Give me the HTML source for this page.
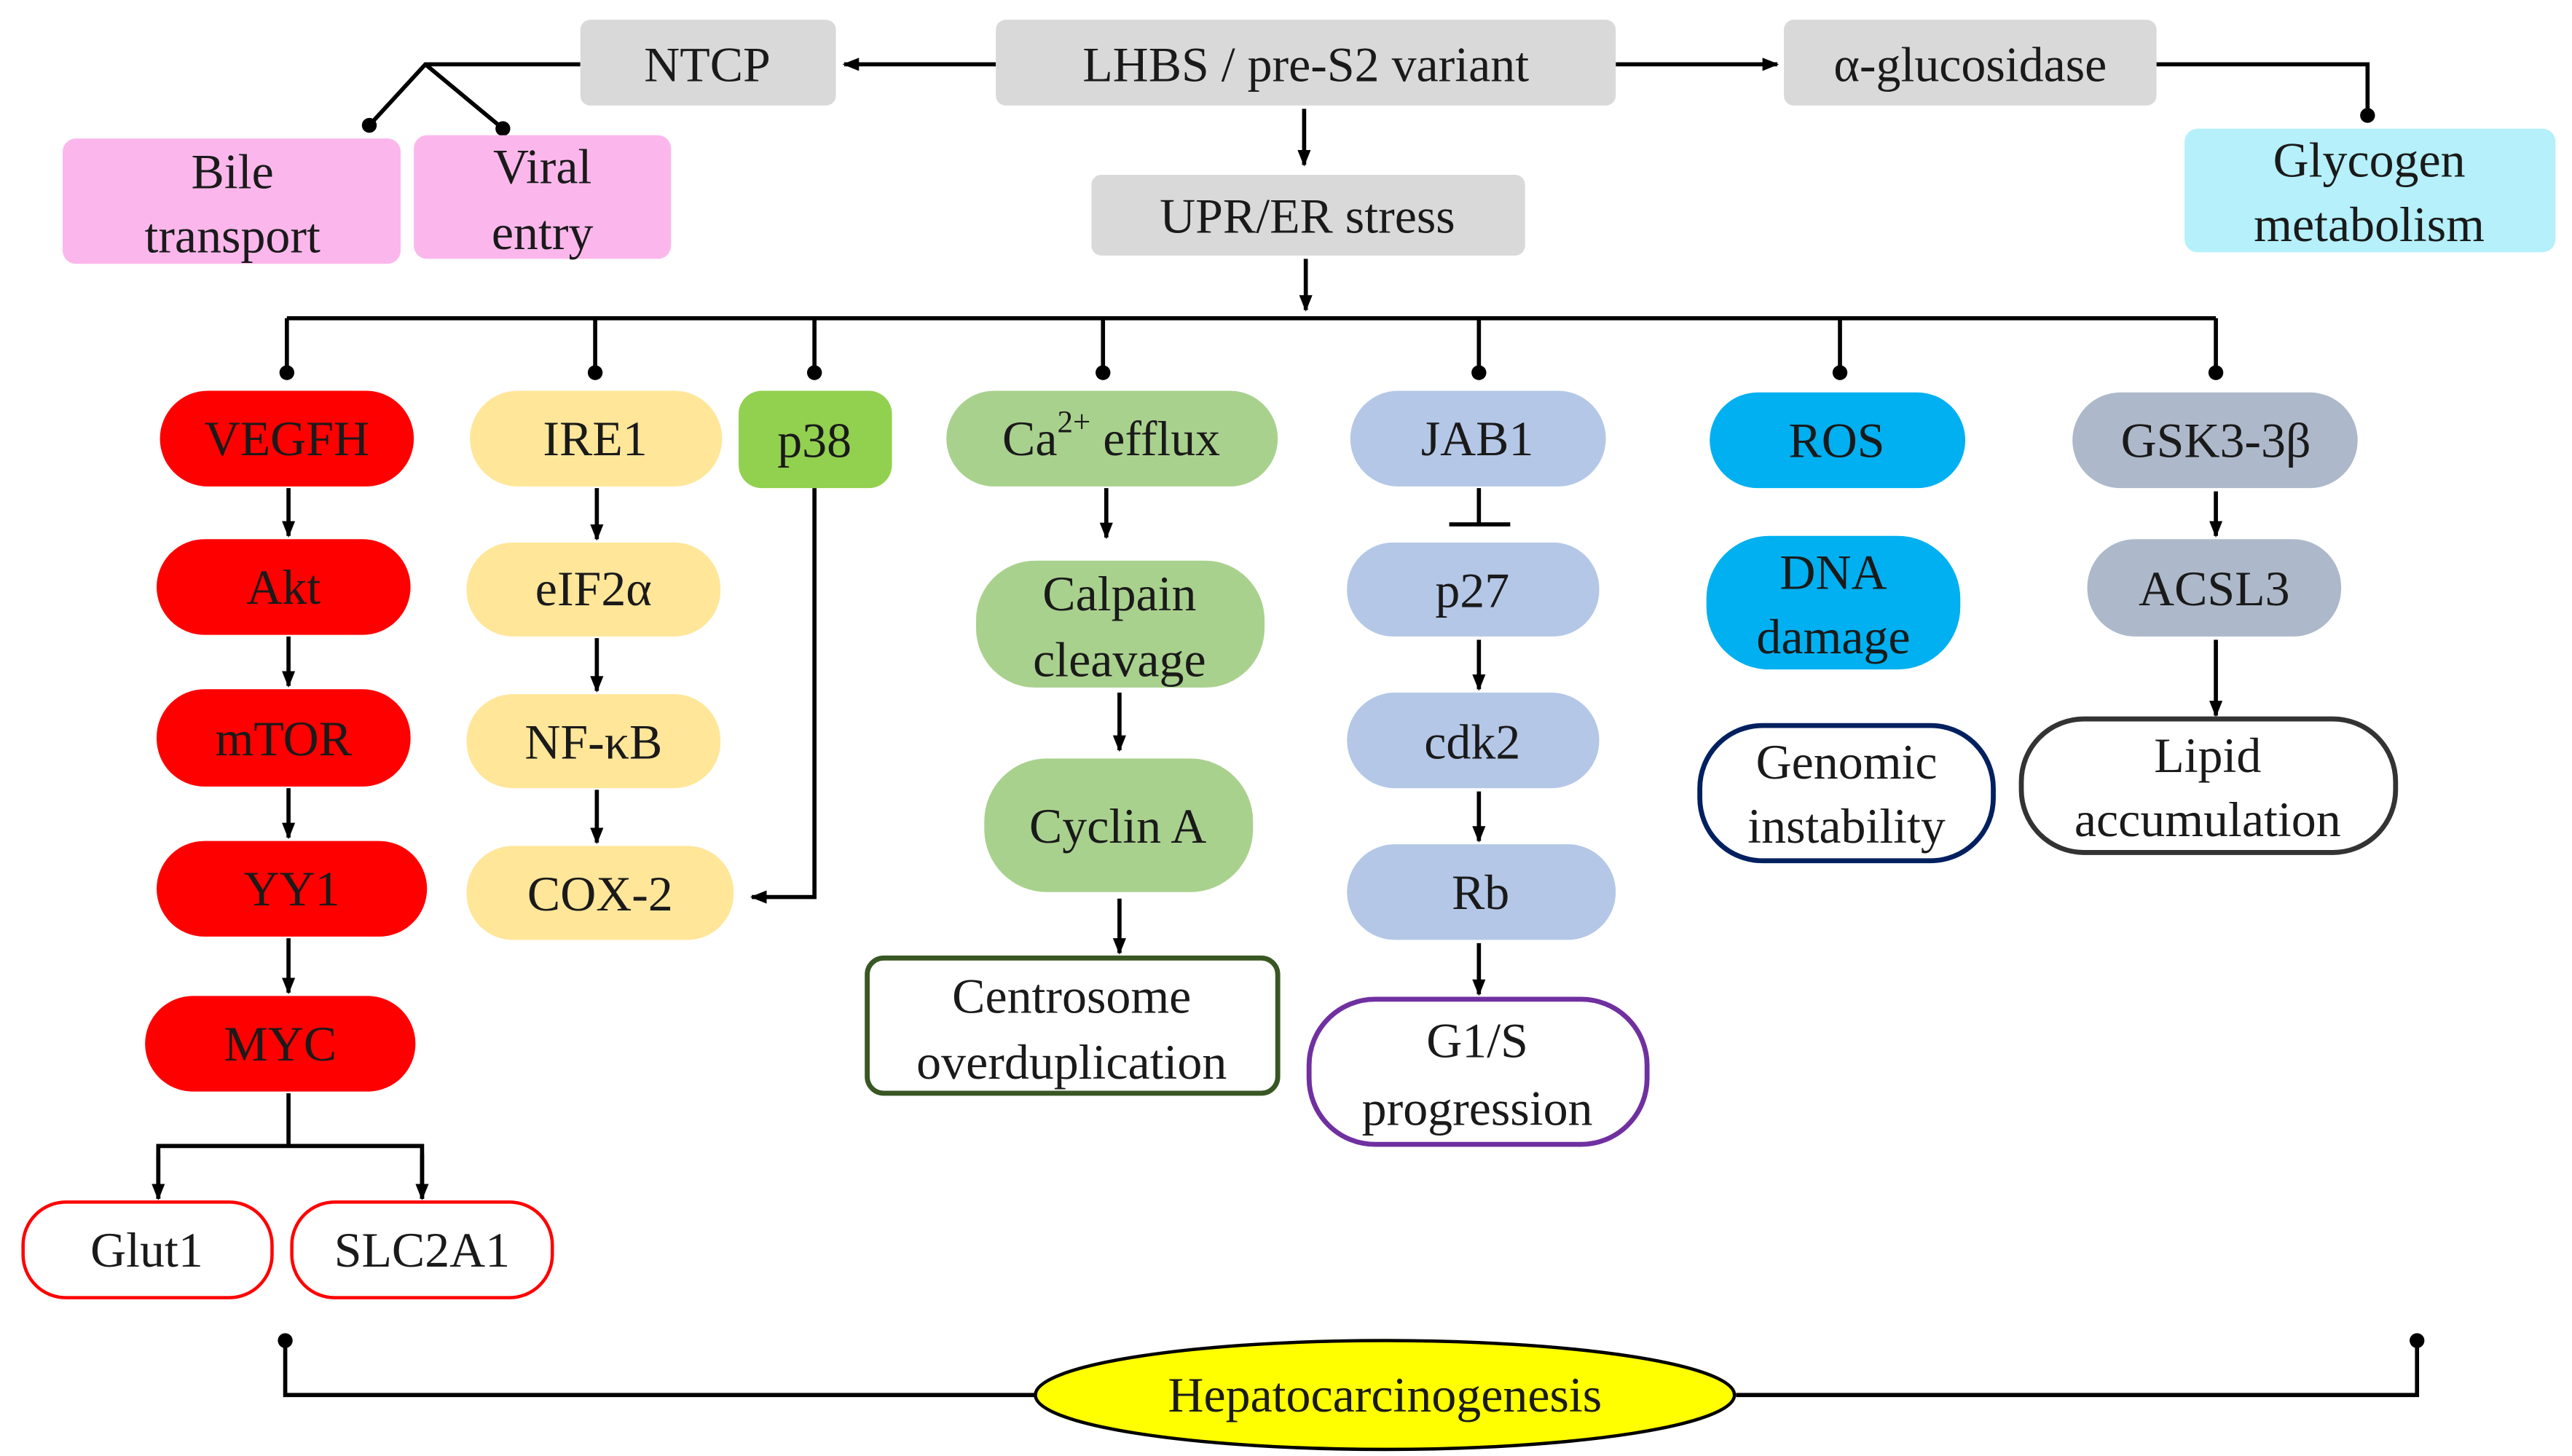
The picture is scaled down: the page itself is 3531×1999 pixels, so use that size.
<!DOCTYPE html>
<html><head><meta charset="utf-8"><style>
html,body{margin:0;padding:0;background:#fff;}
svg{display:block;}
text{font-family:"Liberation Serif","Times New Roman",serif;font-size:30px;fill:#1a1a1a;text-anchor:middle;dominant-baseline:central;}
</style></head><body>
<svg width="3531" height="1999" viewBox="0 0 1560 883" preserveAspectRatio="none" xmlns="http://www.w3.org/2000/svg">
<defs>
<marker id="a" markerWidth="10" markerHeight="10" refX="9" refY="5" orient="auto" markerUnits="userSpaceOnUse"><path d="M0,1 L10,5 L0,9 z" fill="#000"/></marker>
</defs>
<g stroke="#000" stroke-width="2.5" fill="none">
<line x1="604" y1="39" x2="512" y2="39" marker-end="url(#a)"/>
<line x1="980" y1="39" x2="1078" y2="39" marker-end="url(#a)"/>
<polyline points="1308,39 1436,39 1436,70"/>
<polyline points="352,39 258,39 224,76"/>
<line x1="258" y1="39" x2="305" y2="78"/>
<line x1="791" y1="66" x2="791" y2="100" marker-end="url(#a)"/>
<line x1="792" y1="157" x2="792" y2="188" marker-end="url(#a)"/>
<line x1="174" y1="193" x2="1344" y2="193"/>
<line x1="174" y1="193" x2="174" y2="226"/><line x1="361" y1="193" x2="361" y2="226"/>
<line x1="494" y1="193" x2="494" y2="226"/><line x1="669" y1="193" x2="669" y2="226"/>
<line x1="897" y1="193" x2="897" y2="226"/><line x1="1116" y1="193" x2="1116" y2="226"/>
<line x1="1344" y1="193" x2="1344" y2="226"/>
<line x1="175" y1="296" x2="175" y2="325" marker-end="url(#a)"/>
<line x1="175" y1="386" x2="175" y2="416" marker-end="url(#a)"/>
<line x1="175" y1="478" x2="175" y2="508" marker-end="url(#a)"/>
<line x1="175" y1="569" x2="175" y2="602" marker-end="url(#a)"/>
<polyline points="175,663 175,695"/>
<polyline points="96,727 96,695 256,695 256,727"/>
<line x1="96" y1="700" x2="96" y2="727" marker-end="url(#a)"/>
<line x1="256" y1="700" x2="256" y2="727" marker-end="url(#a)"/>
<line x1="362" y1="296" x2="362" y2="327" marker-end="url(#a)"/>
<line x1="362" y1="387" x2="362" y2="419" marker-end="url(#a)"/>
<line x1="362" y1="479" x2="362" y2="511" marker-end="url(#a)"/>
<polyline points="494,296 494,544 456,544" marker-end="url(#a)"/>
<line x1="671" y1="296" x2="671" y2="326" marker-end="url(#a)"/>
<line x1="679" y1="420" x2="679" y2="455" marker-end="url(#a)"/>
<line x1="679" y1="545" x2="679" y2="578" marker-end="url(#a)"/>
<line x1="897" y1="296" x2="897" y2="318"/>
<line x1="879" y1="318" x2="916" y2="318"/>
<line x1="897" y1="388" x2="897" y2="418" marker-end="url(#a)"/>
<line x1="897" y1="480" x2="897" y2="510" marker-end="url(#a)"/>
<line x1="897" y1="572" x2="897" y2="603" marker-end="url(#a)"/>
<line x1="1344" y1="298" x2="1344" y2="325" marker-end="url(#a)"/>
<line x1="1344" y1="388" x2="1344" y2="434" marker-end="url(#a)"/>
<polyline points="173,813 173,846 628,846"/>
<polyline points="1053,846 1466,846 1466,813"/>
</g>
<g fill="#000">
<circle cx="1436" cy="70" r="4.5"/><circle cx="224" cy="76" r="4.5"/><circle cx="305" cy="78" r="4.5"/>
<circle cx="174" cy="226" r="4.5"/><circle cx="361" cy="226" r="4.5"/><circle cx="494" cy="226" r="4.5"/>
<circle cx="669" cy="226" r="4.5"/><circle cx="897" cy="226" r="4.5"/><circle cx="1116" cy="226" r="4.5"/>
<circle cx="1344" cy="226" r="4.5"/><circle cx="173" cy="813" r="4.5"/><circle cx="1466" cy="813" r="4.5"/>
</g>
<rect x="352" y="12" width="155" height="52" rx="6" fill="#d9d9d9"/><text x="429" y="39">NTCP</text>
<rect x="604" y="12" width="376" height="52" rx="6" fill="#d9d9d9"/><text x="792" y="39">LHBS / pre-S2 variant</text>
<rect x="1082" y="12" width="226" height="52" rx="6" fill="#d9d9d9"/><text x="1195" y="39">α-glucosidase</text>
<rect x="662" y="106" width="263" height="49" rx="6" fill="#d9d9d9"/><text x="793" y="131">UPR/ER stress</text>
<rect x="38" y="84" width="205" height="76" rx="8" fill="#fbb7ec"/><text x="141" y="104">Bile</text><text x="141" y="143">transport</text>
<rect x="251" y="82" width="156" height="75" rx="8" fill="#fbb7ec"/><text x="329" y="101">Viral</text><text x="329" y="141">entry</text>
<rect x="1325" y="78" width="225" height="75" rx="8" fill="#b5f0fb"/><text x="1437" y="97">Glycogen</text><text x="1437" y="136">metabolism</text>
<rect x="97" y="237" width="154" height="58" rx="29" fill="#ff0000"/><text x="174" y="266">VEGFH</text>
<rect x="95" y="327" width="154" height="58" rx="29" fill="#ff0000"/><text x="172" y="356">Akt</text>
<rect x="95" y="418" width="154" height="59" rx="29" fill="#ff0000"/><text x="172" y="448">mTOR</text>
<rect x="95" y="510" width="164" height="58" rx="29" fill="#ff0000"/><text x="177" y="539">YY1</text>
<rect x="88" y="604" width="164" height="58" rx="29" fill="#ff0000"/><text x="170" y="633">MYC</text>
<rect x="14" y="729" width="151" height="58" rx="26" fill="#fff" stroke="#ff0000" stroke-width="2"/><text x="89" y="758">Glut1</text>
<rect x="177" y="729" width="158" height="58" rx="26" fill="#fff" stroke="#ff0000" stroke-width="2"/><text x="256" y="758">SLC2A1</text>
<rect x="285" y="237" width="153" height="58" rx="29" fill="#ffe699"/><text x="361" y="266">IRE1</text>
<rect x="283" y="329" width="154" height="57" rx="28" fill="#ffe699"/><text x="360" y="357">eIF2α</text>
<rect x="283" y="421" width="154" height="57" rx="28" fill="#ffe699"/><text x="360" y="450">NF-κB</text>
<rect x="283" y="513" width="162" height="57" rx="28" fill="#ffe699"/><text x="364" y="542">COX-2</text>
<rect x="448" y="237" width="93" height="59" rx="14" fill="#92d050"/><text x="494" y="267">p38</text>
<rect x="574" y="237" width="201" height="58" rx="29" fill="#a9d18e"/><text x="674" y="266">Ca<tspan dy="-10" font-size="19">2+</tspan><tspan dy="10"> efflux</tspan></text>
<rect x="592" y="340" width="175" height="77" rx="36" fill="#a9d18e"/><text x="679" y="360">Calpain</text><text x="679" y="400">cleavage</text>
<rect x="597" y="460" width="163" height="81" rx="38" fill="#a9d18e"/><text x="678" y="501">Cyclin A</text>
<rect x="526" y="581" width="249" height="82" rx="10" fill="#fff" stroke="#385723" stroke-width="3"/><text x="650" y="604">Centrosome</text><text x="650" y="644">overduplication</text>
<rect x="819" y="237" width="155" height="58" rx="29" fill="#b4c7e7"/><text x="896" y="266">JAB1</text>
<rect x="817" y="329" width="153" height="57" rx="28" fill="#b4c7e7"/><text x="893" y="358">p27</text>
<rect x="817" y="420" width="153" height="58" rx="29" fill="#b4c7e7"/><text x="893" y="450">cdk2</text>
<rect x="817" y="512" width="163" height="58" rx="29" fill="#b4c7e7"/><text x="898" y="541">Rb</text>
<rect x="794" y="606" width="205" height="88" rx="40" fill="#fff" stroke="#7030a0" stroke-width="3"/><text x="896" y="631">G1/S</text><text x="896" y="672">progression</text>
<rect x="1037" y="238" width="155" height="58" rx="29" fill="#00b0f0"/><text x="1114" y="267">ROS</text>
<rect x="1035" y="325" width="154" height="81" rx="38" fill="#00b0f0"/><text x="1112" y="347">DNA</text><text x="1112" y="386">damage</text>
<rect x="1031" y="440" width="178" height="82" rx="38" fill="#fff" stroke="#002060" stroke-width="3"/><text x="1120" y="462">Genomic</text><text x="1120" y="501">instability</text>
<rect x="1257" y="238" width="173" height="58" rx="29" fill="#adb9ca"/><text x="1344" y="267">GSK3-3β</text>
<rect x="1266" y="327" width="154" height="59" rx="29" fill="#adb9ca"/><text x="1343" y="357">ACSL3</text>
<rect x="1226" y="436" width="227" height="81" rx="38" fill="#fff" stroke="#333" stroke-width="3"/><text x="1339" y="458">Lipid</text><text x="1339" y="497">accumulation</text>
<ellipse cx="840" cy="846" rx="212" ry="33" fill="#ffff00" stroke="#000" stroke-width="2"/>
<text x="840" y="846" font-size="36">Hepatocarcinogenesis</text>
</svg>
</body></html>
